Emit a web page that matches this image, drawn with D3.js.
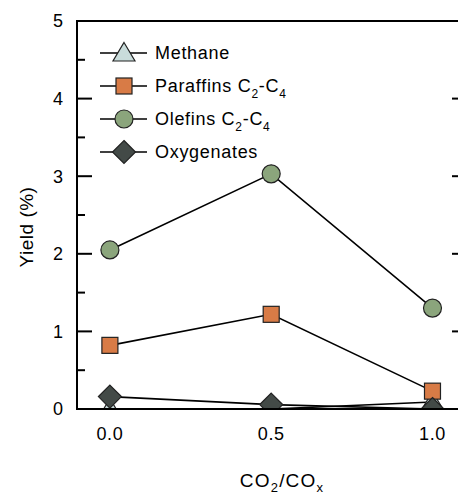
<!DOCTYPE html>
<html>
<head>
<meta charset="utf-8">
<script src="https://cdn.jsdelivr.net/npm/d3@7"></script>
<style>
  body { margin: 0; background: #fff; }
  svg { font-family: "Liberation Sans", Arial, sans-serif; }
</style>
</head>
<body>
<svg id="chart" width="458" height="494"></svg>
<script>
const ratios = [0.0, 0.5, 1.0];
const methane = [0.0, 0.0, 0.09];
const paraffins = [0.82, 1.22, 0.23];
const olefins = [2.05, 3.03, 1.3];
const oxygenates = [0.16, 0.057, 0.0];
const xTicks = [0.0, 0.5, 1.0];
const yTicks = [0, 1, 2, 3, 4, 5];

const svg = d3.select("#chart");
const margin = { top: 21, right: -9, bottom: 85, left: 77 };
const width = +svg.attr("width");
const height = +svg.attr("height");
const chartWidth = width - margin.left - margin.right;
const chartHeight = height - margin.top - margin.bottom;

const xScale = d3.scaleLinear().domain([-0.102, 1.107]).range([0, chartWidth]);
const yScale = d3.scaleLinear().domain([0, 5]).range([chartHeight, 0]);

const g = svg.append("g").attr("transform", `translate(${margin.left},${margin.top})`);

svg.append("defs")
  .append("clipPath")
  .attr("id", "clip")
  .append("rect")
  .attr("width", chartWidth)
  .attr("height", chartHeight);

// frame
g.append("rect")
  .attr("width", chartWidth)
  .attr("height", chartHeight)
  .attr("fill", "none")
  .attr("stroke", "#000")
  .attr("stroke-width", 2);

// y ticks, inward on both sides
const minorTicks = d3.range(0.5, 5, 1);
[[0, 1], [chartWidth, -1]].forEach(([x0, dir]) => {
  g.append("g").selectAll("line")
    .data(yTicks.slice(1, -1))
    .join("line")
    .attr("x1", x0).attr("x2", x0 + dir * 15)
    .attr("y1", (d) => yScale(d)).attr("y2", (d) => yScale(d))
    .attr("stroke", "#000").attr("stroke-width", 2);
  g.append("g").selectAll("line")
    .data(minorTicks)
    .join("line")
    .attr("x1", x0).attr("x2", x0 + dir * 8)
    .attr("y1", (d) => yScale(d)).attr("y2", (d) => yScale(d))
    .attr("stroke", "#000").attr("stroke-width", 2);
});

// tick labels
g.selectAll(".ylab")
  .data(yTicks)
  .join("text")
  .attr("x", -14)
  .attr("y", (d) => yScale(d))
  .attr("dy", "0.36em")
  .attr("text-anchor", "end")
  .style("font-size", "18px")
  .text((d) => d);
g.selectAll(".xlab")
  .data(xTicks)
  .join("text")
  .attr("x", (d) => xScale(d))
  .attr("y", chartHeight + 31)
  .attr("text-anchor", "middle")
  .style("font-size", "18px")
  .style("letter-spacing", "0.6px")
  .text((d) => d3.format(".1f")(d));

// axis titles
svg.append("text")
  .attr("transform", `translate(33,227) rotate(-90)`)
  .attr("text-anchor", "middle")
  .style("font-size", "19px")
  .style("letter-spacing", "0.5px")
  .text("Yield (%)");
const xt = svg.append("text")
  .attr("x", 282)
  .attr("y", 487)
  .attr("text-anchor", "middle")
  .style("font-size", "19px")
  .style("letter-spacing", "1.2px");
xt.append("tspan").text("CO");
xt.append("tspan").attr("dy", 5).style("font-size", "13px").text("2");
xt.append("tspan").attr("dy", -5).text("/CO");
xt.append("tspan").attr("dy", 5).style("font-size", "13px").text("x");

const series = [
  { name: "Methane", values: methane, shape: "triangle", fill: "#c9dcdb" },
  { name: "Paraffins", sub: true, values: paraffins, shape: "square", fill: "#d87b46" },
  { name: "Olefins", sub: true, values: olefins, shape: "circle", fill: "#8ba57c" },
  { name: "Oxygenates", values: oxygenates, shape: "diamond", fill: "#434a47" },
];

function marker(sel, shape, fill) {
  if (shape === "circle") {
    sel.append("circle").attr("r", 9);
  } else if (shape === "square") {
    sel.append("rect").attr("x", -8).attr("y", -8).attr("width", 16).attr("height", 16);
  } else if (shape === "triangle") {
    sel.append("path").attr("d", "M0,-10.5L11,8L-11,8Z");
  } else {
    sel.append("path").attr("d", "M0,-11.5L11.5,0L0,11.5L-11.5,0Z");
  }
  sel.selectAll("*").attr("fill", fill).attr("stroke", "#222").attr("stroke-width", 1.2);
}

const line = d3.line().x((d, i) => xScale(ratios[i])).y((d) => yScale(d));

const plot = g.append("g").attr("clip-path", "url(#clip)");
series.forEach((s) => {
  plot.append("path")
    .datum(s.values)
    .attr("d", line)
    .attr("fill", "none")
    .attr("stroke", "#000")
    .attr("stroke-width", 1.6);
});
series.forEach((s) => {
  s.values.forEach((v, i) => {
    const m = plot.append("g").attr("transform", `translate(${xScale(ratios[i])},${yScale(v)})`);
    marker(m, s.shape, s.fill);
  });
});
// redraw bottom axis line over clipped markers
g.append("line")
  .attr("x1", 0).attr("x2", chartWidth)
  .attr("y1", chartHeight).attr("y2", chartHeight)
  .attr("stroke", "#000").attr("stroke-width", 2);

// legend
const legendY = [53, 86, 119, 152];
series.forEach((s, i) => {
  const lg = svg.append("g").attr("transform", `translate(0,${legendY[i]})`);
  lg.append("line").attr("x1", 100).attr("x2", 147).attr("stroke", "#000").attr("stroke-width", 1.6);
  const m = lg.append("g").attr("transform", "translate(124,0)");
  marker(m, s.shape, s.fill);
  const t = lg.append("text")
    .attr("x", 155)
    .attr("dy", "0.36em")
    .style("font-size", "18px")
    .style("letter-spacing", "0.7px");
  if (s.sub) {
    t.append("tspan").text(s.name + " C");
    t.append("tspan").attr("dy", 6).style("font-size", "12px").text("2");
    t.append("tspan").attr("dy", -6).text("-C");
    t.append("tspan").attr("dy", 6).style("font-size", "12px").text("4");
  } else {
    t.text(s.name);
  }
});
</script>
</body>
</html>
